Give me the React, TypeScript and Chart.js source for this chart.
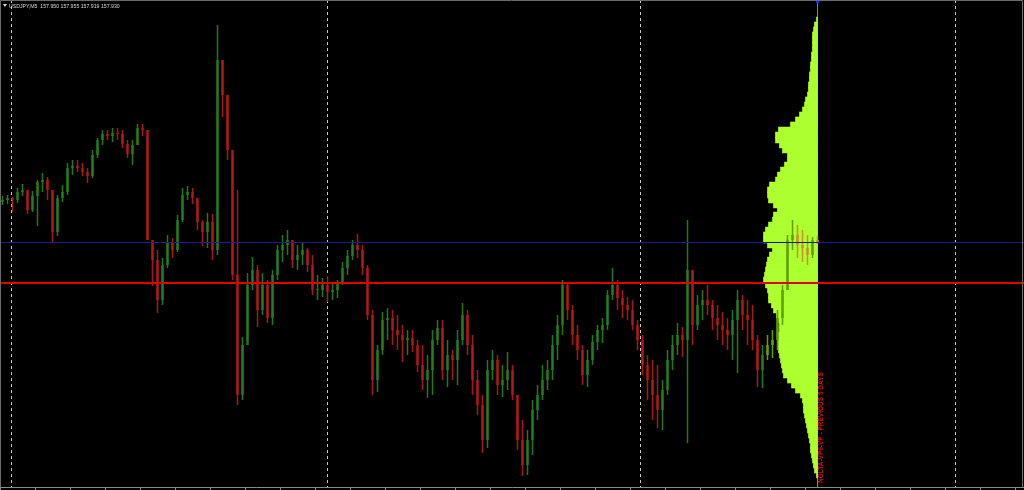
import { useEffect, useRef } from 'react';
import { Chart, registerables } from 'chart.js';

Chart.register(...registerables);

// ---- header / labels ----
const symbolLabel = 'USDJPY,M5';
const lastQuote = ['157.950', '157.955', '157.919', '157.930'];
const indicatorLabel = 'NOLTA-VPII-VP - PREVIOUS 5 DAYS';

// ---- candles (M5, aggregated into slots) ----
const firstOpen = 158.33;
const highs = [
  158.39, 158.40, 158.38, 158.47, 158.51, 158.45, 158.44, 158.55, 158.62, 158.58,
  158.45, 158.40, 158.50, 158.72, 158.75, 158.75, 158.72, 158.67, 158.85, 158.97,
  159.05, 159.05, 159.07, 159.07, 159.05, 158.95, 158.95, 159.11, 159.11, 159.05,
  157.95, 157.85, 157.77, 158.00, 157.97, 158.20, 158.47, 158.49, 158.47, 158.35,
  158.15, 158.22, 158.21, 160.10, 159.75, 159.40, 158.80, 158.45, 156.98, 157.62,
  157.78, 157.70, 157.62, 157.55, 157.65, 157.90, 158.00, 158.05, 157.95, 157.90,
  157.93, 157.87, 157.80, 157.60, 157.57, 157.59, 157.52, 157.55, 157.73, 157.85,
  157.95, 158.01, 157.90, 157.70, 157.25, 156.90, 157.23, 157.27, 157.25, 157.20,
  157.10, 157.05, 157.05, 156.95, 156.90, 156.80, 157.05, 157.15, 157.15, 156.95,
  156.85, 157.05, 157.32, 157.25, 157.00, 156.65, 156.40, 156.75, 156.85, 156.80,
  156.70, 156.83, 156.70, 156.40, 156.15, 156.05, 156.35, 156.50, 156.70, 156.75,
  157.00, 157.20, 157.55, 157.53, 157.30, 157.10, 156.90, 156.85, 157.00, 157.10,
  157.17, 157.45, 157.67, 157.55, 157.45, 157.38, 157.35, 157.15, 157.00, 156.80,
  156.75, 156.70, 156.55, 156.85, 157.00, 157.12, 157.08, 158.15, 157.65, 157.40,
  157.45, 157.50, 157.35, 157.30, 157.23, 157.17, 157.25, 157.45, 157.40, 157.35,
  157.30, 157.00, 156.90, 157.00, 157.05, 157.25, 157.50, 158.00, 158.15, 158.10,
  158.05, 158.00, 157.98, 157.99,
];
const lows = [
  158.30, 158.31, 158.23, 158.32, 158.39, 158.21, 158.23, 158.09, 158.43, 158.35,
  157.93, 157.99, 158.33, 158.40, 158.60, 158.63, 158.59, 158.52, 158.57, 158.77,
  158.90, 158.95, 158.93, 158.95, 158.87, 158.77, 158.70, 158.90, 158.99, 157.95,
  157.49, 157.22, 157.30, 157.67, 157.77, 157.83, 158.13, 158.35, 158.31, 158.05,
  157.89, 157.87, 157.75, 157.80, 159.18, 158.75, 157.55, 156.30, 156.35, 156.95,
  157.45, 157.08, 157.20, 157.12, 157.10, 157.55, 157.73, 157.80, 157.67, 157.65,
  157.70, 157.63, 157.40, 157.35, 157.38, 157.33, 157.35, 157.37, 157.50, 157.60,
  157.75, 157.77, 157.60, 157.15, 156.40, 156.43, 156.80, 156.95, 156.90, 156.85,
  156.73, 156.80, 156.83, 156.63, 156.45, 156.37, 156.40, 156.90, 156.55, 156.48,
  156.55, 156.50, 156.90, 156.80, 156.40, 156.20, 155.82, 155.87, 156.55, 156.40,
  156.38, 156.45, 156.35, 155.85, 155.59, 155.60, 155.80, 156.15, 156.35, 156.45,
  156.55, 156.75, 157.00, 157.15, 156.90, 156.75, 156.50, 156.48, 156.70, 156.85,
  156.92, 157.05, 157.35, 157.25, 157.17, 157.15, 157.05, 156.85, 156.60, 156.35,
  156.15, 156.07, 156.05, 156.40, 156.65, 156.80, 156.78, 155.92, 156.90, 157.05,
  157.15, 157.20, 157.05, 156.95, 156.90, 156.85, 156.75, 156.62, 157.05, 156.90,
  156.85, 156.48, 156.47, 156.75, 156.77, 156.85, 157.10, 157.45, 157.85, 157.77,
  157.73, 157.70, 157.77, 157.91,
];
const closes = [
  158.35, 158.37, 158.35, 158.43, 158.45, 158.25, 158.39, 158.53, 158.55, 158.45,
  158.03, 158.37, 158.43, 158.67, 158.69, 158.67, 158.63, 158.59, 158.80, 158.95,
  159.01, 158.99, 159.02, 159.01, 158.91, 158.81, 158.90, 159.07, 159.05, 157.95,
  157.75, 157.35, 157.70, 157.93, 157.85, 158.15, 158.40, 158.43, 158.37, 158.13,
  158.03, 158.13, 157.85, 159.75, 159.40, 158.85, 157.60, 156.40, 156.90, 157.50,
  157.65, 157.25, 157.50, 157.17, 157.60, 157.85, 157.90, 157.95, 157.75, 157.80,
  157.85, 157.70, 157.45, 157.45, 157.50, 157.43, 157.45, 157.53, 157.67, 157.79,
  157.90, 157.85, 157.67, 157.20, 156.55, 156.85, 157.15, 157.17, 157.05, 157.00,
  156.95, 156.97, 156.90, 156.70, 156.55, 156.65, 156.95, 157.07, 156.65, 156.80,
  156.75, 156.95, 157.20, 156.90, 156.55, 156.30, 155.95, 156.65, 156.75, 156.50,
  156.55, 156.65, 156.40, 155.95, 155.70, 155.95, 156.25, 156.40, 156.55, 156.65,
  156.90, 157.10, 157.50, 157.25, 157.00, 156.85, 156.60, 156.75, 156.93, 157.05,
  157.10, 157.40, 157.50, 157.37, 157.30, 157.25, 157.10, 156.95, 156.70, 156.55,
  156.40, 156.25, 156.45, 156.75, 156.90, 157.00, 156.95, 157.65, 157.10, 157.30,
  157.35, 157.30, 157.17, 157.10, 157.05, 157.00, 157.15, 157.35, 157.20, 157.15,
  156.95, 156.65, 156.80, 156.90, 156.95, 157.17, 157.45, 157.95, 158.00, 157.90,
  157.87, 157.80, 157.95, 157.93,
];

// day separators, in bar-index units
const daySeparators = [1.7, 64.9, 127.5, 190.7];

// horizontal levels
const bidPrice = 157.93;
const pocPrice = 157.52;

// visible price range of the window
const priceTop = 160.35;
const priceBottom = 155.48;

// ---- volume profile (previous 5 days) ----
const profileLevels = [
  160.15, 160.10, 160.05, 160.00, 159.95, 159.90, 159.85, 159.80, 159.75, 159.70,
  159.65, 159.60, 159.55, 159.50, 159.45, 159.40, 159.35, 159.30, 159.25, 159.20,
  159.15, 159.10, 159.05, 159.00, 158.95, 158.90, 158.85, 158.80, 158.75, 158.70,
  158.65, 158.60, 158.55, 158.50, 158.45, 158.40, 158.35, 158.30, 158.25, 158.20,
  158.15, 158.10, 158.05, 158.00, 157.95, 157.90, 157.85, 157.80, 157.75, 157.70,
  157.65, 157.60, 157.55, 157.50, 157.45, 157.40, 157.35, 157.30, 157.25, 157.20,
  157.15, 157.10, 157.05, 157.00, 156.95, 156.90, 156.85, 156.80, 156.75, 156.70,
  156.65, 156.60, 156.55, 156.50, 156.45, 156.40, 156.35, 156.30, 156.25, 156.20,
  156.15, 156.10, 156.05, 156.00, 155.95, 155.90, 155.85, 155.80, 155.75, 155.70,
  155.65, 155.60,
];
const profileVolumes = [
  10, 30, 40, 50, 50, 50, 50, 60, 60, 70,
  70, 80, 80, 90, 90, 100, 120, 130, 150, 180,
  220, 270, 390, 420, 420, 380, 350, 300, 300, 330,
  370, 400, 420, 480, 500, 500, 490, 440, 400, 440,
  450, 490, 520, 540, 540, 500, 450, 480, 500, 510,
  520, 530, 540, 520, 500, 490, 490, 460, 440, 410,
  390, 380, 380, 390, 390, 390, 390, 380, 370, 360,
  350, 340, 300, 260, 220, 170, 150, 140, 140, 130,
  120, 110, 100, 90, 80, 70, 70, 60, 50, 40,
  30, 10,
];

// ---- styles ----
const barUpColor = 'rgba(34,128,28,0.95)';
const barDownColor = 'rgba(178,26,20,0.95)';
const barUpOverProfile = 'rgb(96,160,10)';
const barDownOverProfile = 'rgb(200,146,40)';
const profileColor = '#adff2f';
const profileWidthBars = 10.8;

export default function App() {
  const ref = useRef<HTMLCanvasElement>(null);

  useEffect(() => {
    const canvas = ref.current;
    if (!canvas) return;
    const n = closes.length;
    const anchor = n - 1;
    const opens = closes.map((c, i) => (i === 0 ? firstOpen : closes[i - 1]));
    const maxVol = Math.max(...profileVolumes);
    const profileStart = anchor - profileWidthBars;
    const colors = closes.map((c, i) => {
      const up = c >= opens[i];
      if (i >= profileStart) return up ? barUpOverProfile : barDownOverProfile;
      return up ? barUpColor : barDownColor;
    });

    const overlay = {
      id: 'mtOverlay',
      beforeDraw(chart: any) {
        const { ctx, width, height } = chart;
        ctx.save();
        ctx.fillStyle = '#000';
        ctx.fillRect(0, 0, width, height);
        ctx.restore();
      },
      beforeDatasetsDraw(chart: any) {
        const { ctx, chartArea, scales } = chart;
        const xs = scales.x;
        ctx.save();
        ctx.strokeStyle = '#c8c8c8';
        ctx.lineWidth = 1;
        ctx.setLineDash([3, 3]);
        for (const s of daySeparators) {
          const px = Math.floor(xs.getPixelForValue(s)) + 0.5;
          ctx.beginPath();
          ctx.moveTo(px, chartArea.top);
          ctx.lineTo(px, chartArea.bottom);
          ctx.stroke();
        }
        ctx.setLineDash([]);
        const ax = Math.floor(xs.getPixelForValue(anchor)) + 0.5;
        ctx.strokeStyle = 'rgb(125,140,70)';
        ctx.beginPath();
        ctx.moveTo(ax, chartArea.top);
        ctx.lineTo(ax, chartArea.bottom);
        ctx.stroke();
        ctx.restore();
      },
      afterDatasetsDraw(chart: any) {
        const { ctx, chartArea, scales } = chart;
        const xs = scales.x;
        const ys = scales.y;
        ctx.save();
        // bid line
        const by = Math.round(ys.getPixelForValue(bidPrice)) + 0.5;
        ctx.strokeStyle = 'rgb(28,28,140)';
        ctx.lineWidth = 1;
        ctx.beginPath();
        ctx.moveTo(chartArea.left, by);
        ctx.lineTo(chartArea.right, by);
        ctx.stroke();
        // POC line
        const py = Math.round(ys.getPixelForValue(pocPrice));
        ctx.strokeStyle = 'rgb(225,0,0)';
        ctx.lineWidth = 2;
        ctx.beginPath();
        ctx.moveTo(chartArea.left, py);
        ctx.lineTo(chartArea.right, py);
        ctx.stroke();
        // profile anchor marker
        const ax = Math.floor(xs.getPixelForValue(anchor));
        ctx.fillStyle = 'rgb(30,30,255)';
        ctx.fillRect(ax - 1, chartArea.top, 3, 3);
        // indicator label (vertical)
        ctx.save();
        ctx.translate(ax + 4, chartArea.bottom - 4);
        ctx.rotate(-Math.PI / 2);
        ctx.fillStyle = 'rgb(210,20,20)';
        ctx.font = 'bold 6.5px "Liberation Sans"';
        ctx.textAlign = 'left';
        ctx.textBaseline = 'middle';
        ctx.fillText(indicatorLabel, 0, 0);
        ctx.restore();
        // header
        ctx.fillStyle = '#d8d8d8';
        ctx.beginPath();
        ctx.moveTo(3, 4);
        ctx.lineTo(7, 4);
        ctx.lineTo(5, 7);
        ctx.closePath();
        ctx.fill();
        ctx.font = '5.2px "Liberation Sans"';
        ctx.textBaseline = 'alphabetic';
        ctx.textAlign = 'left';
        ctx.fillText(symbolLabel + '  ' + lastQuote.join(' '), 9, 8);
        // frame
        ctx.strokeStyle = '#6a6a6a';
        ctx.lineWidth = 1;
        ctx.beginPath();
        ctx.moveTo(0.5, chartArea.bottom);
        ctx.lineTo(0.5, 0.5);
        ctx.lineTo(1022.5, 0.5);
        ctx.lineTo(1022.5, chartArea.bottom);
        ctx.stroke();
        ctx.restore();
      },
    };

    const chart = new Chart(canvas, {
      type: 'bar',
      data: {
        datasets: [
          {
            label: 'body',
            data: closes.map((c, i) => ({ x: i, y: [opens[i], c] })) as any,
            backgroundColor: colors,
            grouped: false,
            categoryPercentage: 1,
            barPercentage: 0.5,
            minBarLength: 1,
            order: 1,
          } as any,
          {
            label: 'wick',
            data: highs.map((h, i) => ({ x: i, y: [lows[i], h] })) as any,
            backgroundColor: colors,
            grouped: false,
            categoryPercentage: 1,
            barPercentage: 0.3,
            order: 2,
          } as any,
          {
            label: 'profile',
            indexAxis: 'y',
            data: profileLevels.map((p, k) => ({
              y: p,
              x: [anchor - (profileVolumes[k] / maxVol) * profileWidthBars, anchor],
            })) as any,
            backgroundColor: profileColor,
            grouped: true,
            barThickness: 6,
            order: 3,
          } as any,
        ],
      },
      options: {
        responsive: true,
        maintainAspectRatio: false,
        animation: false,
        events: [],
        layout: { padding: 0 },
        plugins: {
          legend: { display: false },
          title: { display: false },
          tooltip: { enabled: false },
        },
        scales: {
          x: {
            type: 'linear',
            min: -0.5,
            max: 204.3,
            offset: false,
            bounds: 'data',
            beginAtZero: false,
            display: true,
            grid: {
              display: true,
              drawOnChartArea: false,
              drawTicks: true,
              tickLength: 3,
              tickColor: '#8a8a8a',
              offset: false,
            },
            border: { display: true, color: '#8a8a8a' },
            ticks: { display: false, stepSize: 7 },
            afterFit: (s: any) => {
              s.height = 3;
            },
          },
          y: {
            type: 'linear',
            min: priceBottom,
            max: priceTop,
            offset: false,
            bounds: 'data',
            beginAtZero: false,
            grace: 0,
            display: false,
            grid: { display: false, offset: false },
          },
        },
      } as any,
      plugins: [overlay],
    });

    return () => chart.destroy();
  }, []);

  return (
    <div
      style={{
        position: 'fixed',
        left: 0,
        top: 0,
        width: 1024,
        height: 490,
        background: '#000',
      }}
    >
      <canvas ref={ref} />
    </div>
  );
}
